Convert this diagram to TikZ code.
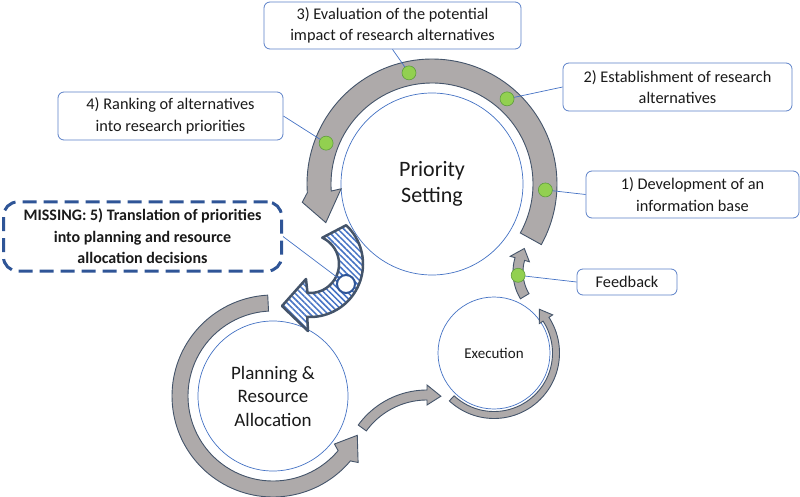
\documentclass[tikz,border=0pt]{standalone}
\usepackage{fontspec}
\setmainfont{Carlito}
\usetikzlibrary{patterns.meta}
\definecolor{bandfill}{HTML}{AEAAAA}
\definecolor{bandline}{HTML}{44546A}
\definecolor{boxline}{HTML}{5B80C8}
\definecolor{circline}{HTML}{4472C4}
\definecolor{dotfill}{HTML}{92D050}
\definecolor{dotline}{HTML}{5E9C3C}
\definecolor{missblue}{HTML}{2F5597}
\definecolor{txt}{HTML}{1A1A1A}
\pgfdeclarelayer{front}
\pgfsetlayers{main,front}
\tikzset{
  band/.style={fill=bandfill, draw=bandline, line width=0.9pt, line join=miter},
  ring/.style={circle, draw=circline, line width=0.7pt, fill=white, inner sep=0pt, align=center, text=txt},
  gdot/.style={circle, fill=dotfill, draw=dotline, line width=0.6pt, minimum size=14pt, inner sep=0pt},
  lbl/.style={draw=boxline, line width=0.8pt, rounded corners=6pt, fill=white, align=center, text=txt,
              font=\fontsize{16.3}{21.5}\selectfont, inner sep=0pt},
  conn/.style={draw=circline, line width=0.7pt},
  hatcharrow/.style={preaction={fill=white},
      pattern={Lines[angle=-45,distance=4.2pt,line width=1.5pt]}, pattern color=circline,
      draw=bandline, line width=2.5pt, line join=round},
}
\begin{document}
\begin{tikzpicture}[x=1pt,y=-1pt]
\useasboundingbox (0,0) rectangle (800,497);

% ---------- Priority Setting ----------
\node[ring, minimum size=182pt, font=\fontsize{22}{26}\selectfont] (ps) at (432,184) {Priority\\Setting};
\draw[band] plot[domain=29:-184, samples=90] ({432+125*cos(\x)},{184+125*sin(\x)})
  -- ({432+131*cos(-188)},{184+131*sin(-188)})
  -- ({432+113*cos(-200)},{184+113*sin(-200)})
  -- ({432+91*cos(-183)},{184+91*sin(-183)})
  -- plot[domain=-184:29, samples=90] ({432+101*cos(\x)},{184+101*sin(\x)}) -- cycle;

% ---------- Planning & Resource Allocation ----------
\node[ring, minimum size=150pt, font=\fontsize{19}{23.5}\selectfont] (pr) at (273,396) {Planning \&\\Resource\\Allocation};
\draw[band] plot[domain=-93:-320, samples=90] ({273+101*cos(\x)},{396+101*sin(\x)})
  -- ({273+108*cos(-322)},{396+108*sin(-322)})
  -- ({273+93*cos(-335)},{396+93*sin(-335)})
  -- ({273+78*cos(-322)},{396+78*sin(-322)})
  -- plot[domain=-320:-93, samples=90] ({273+85*cos(\x)},{396+85*sin(\x)}) -- cycle;

% ---------- Execution ----------
\node[ring, minimum size=112pt, font=\fontsize{15}{17}\selectfont] (ex) at (494,353) {Execution};
\draw[band] plot[domain=133:-33, samples=80] ({494+65.5*cos(\x)},{353+65.5*sin(\x)})
  -- ({494+70*cos(-33)},{353+70*sin(-33)})
  -- ({494+63*cos(-44)},{353+63*sin(-44)})
  -- ({494+54*cos(-33)},{353+54*sin(-33)})
  -- plot[domain=-33:133, samples=80] ({494+58.5*cos(\x)},{353+58.5*sin(\x)}) -- cycle;

% ---------- Feedback arc ----------
\draw[band] plot[domain=149:196, samples=30] ({565+52*cos(\x)},{272+52*sin(\x)})
  -- ({565+57*cos(196)},{272+57*sin(196)})
  -- ({565+47*cos(210)},{272+47*sin(210)})
  -- ({565+37*cos(196)},{272+37*sin(196)})
  -- plot[domain=196:149, samples=30] ({565+42*cos(\x)},{272+42*sin(\x)}) -- cycle;

% ---------- Planning -> Execution arrow ----------
\draw[band] plot[domain=-144:-90, samples=40] ({427+85*cos(\x)},{475+85*sin(\x)})
  -- ({427+90*cos(-90)},{475+90*sin(-90)})
  -- ({427+80*cos(-80)},{475+80*sin(-80)})
  -- ({427+70*cos(-90)},{475+70*sin(-90)})
  -- plot[domain=-90:-144, samples=40] ({427+75*cos(\x)},{475+75*sin(\x)}) -- cycle;

% ---------- hatched (missing) arrow ----------
\draw[hatcharrow] plot[domain=-47:93, samples=60] ({310+53*cos(\x)},{264+53*sin(\x)})
  -- (308,331) -- (282,306) -- (306,279)
  -- plot[domain=95:-65, samples=60] ({310+29*cos(\x)},{264+29*sin(\x)}) -- cycle;

% ---------- front layer: dots and labels ----------
\begin{pgfonlayer}{front}
\node[gdot] (d1) at ({432+113.5*cos(3)},{184+113.5*sin(3)}) {};
\node[gdot] (d2) at ({432+113.5*cos(-48.6)},{184+113.5*sin(-48.6)}) {};
\node[gdot] (d3) at ({432+113.5*cos(-101.7)},{184+113.5*sin(-101.7)}) {};
\node[gdot] (d4) at ({432+113.5*cos(-158.9)},{184+113.5*sin(-158.9)}) {};
\node[gdot] (df) at ({565+47*cos(176)},{272+47*sin(176)}) {};
\node[circle, fill=white, draw=missblue, line width=2pt, minimum size=18pt, inner sep=0pt] (dm) at (346,284) {};

\node[lbl, minimum width=257pt, minimum height=47pt] (b3) at (392.5,25.5)
  {3) Evaluation of the potential\\impact of research alternatives};
\node[lbl, minimum width=229pt, minimum height=48pt] (b2) at (677.5,87)
  {2) Establishment of research\\alternatives};
\node[lbl, minimum width=213pt, minimum height=47pt] (b1) at (692.5,194.5)
  {1) Development of an\\information base};
\node[lbl, minimum width=225pt, minimum height=48pt] (b4) at (170.5,116)
  {4) Ranking of alternatives\\into research priorities};
\node[lbl, minimum width=100pt, minimum height=26pt] (fb) at (627,282) {Feedback};
\node[draw=missblue, line width=3pt, dash pattern=on 14pt off 7pt, rounded corners=14pt,
      fill=white, align=center, inner sep=0pt, minimum width=278pt, minimum height=69pt, text=txt,
      font=\bfseries\fontsize{16}{21.5}\selectfont] (miss) at (142.5,236.5)
  {MISSING: 5) Translation of priorities\\into planning and resource\\allocation decisions};
\end{pgfonlayer}

% ---------- connectors ----------
\draw[conn] (b3.south) -- (d3.center);
\draw[conn] (b2.west) -- (d2.center);
\draw[conn] (b1.west) -- (d1.center);
\draw[conn] (b4.east) -- (d4.center);
\draw[conn] (fb.west) -- (df.center);
\draw[conn] (miss.east) -- (dm.center);
\end{tikzpicture}
\end{document}
